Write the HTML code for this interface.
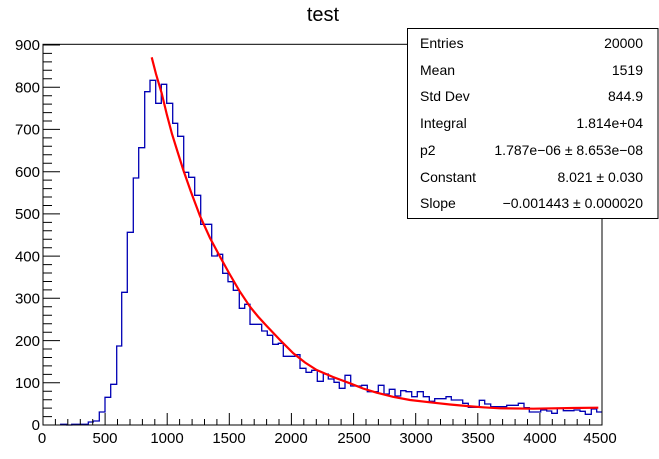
<!DOCTYPE html>
<html><head><meta charset="utf-8"><style>
html,body{margin:0;padding:0;background:#fff;}
svg{display:block;font-family:"Liberation Sans",Arial,sans-serif;}
</style></head><body>
<svg width="659" height="459" viewBox="0 0 659 459" xmlns="http://www.w3.org/2000/svg">
<rect width="659" height="459" fill="#fff"/>
<text x="323" y="21" font-size="20" text-anchor="middle">test</text>
<path fill="none" stroke="#0000b4" stroke-width="1.3" d="M60.7,425 V424.3 H66.7 V425 H71.7 V424.3 H88.3 V422 H93.3 V421 H99.3 V412 H105 V397.3 H110.7 V384.3 H116.7 V346 H121.7 V292.3 H127.3 V232.3 H133.3 V178 H138.7 V147.7 H144.7 V91.7 H150 V80.3 H155.7 V103.3 H161.3 V84.3 H166.7 V103.3 H172.7 V123.3 H177.7 V136.3 H183.7 V172.3 H188.7 V177.3 H194.7 V195.3 H200.7 V224.3 H211.7 V256 H217.3 V254.3 H222.7 V273.3 H228 V281.7 H233.3 V290.3 H239.3 V308.3 H244.7 V304.3 H250 V324.3 H261.7 V331 H267.3 V335.3 H272.7 V344.3 H278.3 V343.3 H283.3 V356.3 H295 V354.7 H300 V368.3 H306 V372.3 H311.7 V370.3 H317.3 V381.3 H323.3 V374 H328.3 V379 H334 V382.3 H339.3 V388.3 H345 V375.3 H350.7 V386 H361.7 V385.3 H367.3 V391.7 H378.3 V385.3 H384 V394 H389.3 V389.3 H395 V396 H400.7 V390.7 H406 V391.7 H411.7 V396.7 H417.3 V391.7 H423.3 V396.7 H429.3 V401.3 H434.7 V398.7 H446 V396.7 H451.3 V400 H462.7 V403.3 H468.3 V407.3 H479.3 V400.3 H484.7 V404 H490.7 V406.7 H506.7 V405.3 H518.3 V403.3 H524 V407.7 H529.3 V412 H540.7 V410 H546.7 V411 H551.7 V413.3 H557.3 V408.3 H563.3 V410.7 H574 V410 H580 V411.3 H585.3 V414.3 H591.3 V409 H596.7 V412 H602"/>
<polyline fill="none" stroke="#ff0000" stroke-width="2.2" points="151.7,57.3 156,74 161.7,93.3 166.7,114 172,134 177,150 183.3,170 191,192 200,216 210,238 220,256.7 229,273 239.3,290.7 250,306.7 258,316.5 266.7,326 280,340 293.3,353.3 305,362.5 316.7,370 333,377 350,383.3 363,388.5 376.7,392.7 393,396.8 410,400 433.3,402.7 450,404.5 466.7,406 483,407.3 500,408.3 533.3,408.7 573.3,408 598.3,407.7"/>
<rect x="43" y="44.3" width="559" height="380.7" fill="none" stroke="#000" stroke-width="1"/>
<g stroke="#000" stroke-width="1">
<path d="M43,425 H60 M43,382.8 H60 M43,340.6 H60 M43,298.3 H60 M43,256.1 H60 M43,213.9 H60 M43,171.7 H60 M43,129.4 H60 M43,87.2 H60 M43,45 H60"/>
<path d="M43,416.6H52M43,408.1H52M43,399.7H52M43,391.2H52M43,374.4H52M43,365.9H52M43,357.5H52M43,349H52M43,332.2H52M43,323.7H52M43,315.3H52M43,306.8H52M43,289.9H52M43,281.5H52M43,273H52M43,264.6H52M43,247.7H52M43,239.3H52M43,230.8H52M43,222.4H52M43,205.5H52M43,197H52M43,188.6H52M43,180.1H52M43,163.2H52M43,154.8H52M43,146.3H52M43,137.9H52M43,121H52M43,112.6H52M43,104.1H52M43,95.7H52M43,78.8H52M43,70.3H52M43,61.9H52M43,53.4H52"/>
<path d="M43,425V413M105.1,425V413M167.2,425V413M229.3,425V413M291.4,425V413M353.6,425V413M415.7,425V413M477.8,425V413M539.9,425V413M602,425V413"/>
<path d="M55.4,425V419M67.8,425V419M80.3,425V419M92.7,425V419M117.5,425V419M130,425V419M142.4,425V419M154.8,425V419M179.6,425V419M192.1,425V419M204.5,425V419M216.9,425V419M241.7,425V419M254.2,425V419M266.6,425V419M279,425V419M303.8,425V419M316.3,425V419M328.7,425V419M341.1,425V419M366,425V419M378.4,425V419M390.8,425V419M403.3,425V419M428.1,425V419M440.5,425V419M453,425V419M465.4,425V419M490.2,425V419M502.6,425V419M515.1,425V419M527.5,425V419M552.3,425V419M564.8,425V419M577.2,425V419M589.6,425V419"/>
</g>
<g font-size="15" text-anchor="end">
<text x="40" y="430">0</text><text x="40" y="388">100</text><text x="40" y="346">200</text><text x="40" y="303.5">300</text><text x="40" y="261.5">400</text><text x="40" y="219">500</text><text x="40" y="177">600</text><text x="40" y="134.5">700</text><text x="40" y="92.5">800</text><text x="40" y="50">900</text>
</g>
<g font-size="15" text-anchor="middle">
<text x="42" y="443">0</text><text x="105" y="443">500</text><text x="167" y="443">1000</text><text x="229" y="443">1500</text><text x="291" y="443">2000</text><text x="354" y="443">2500</text><text x="416" y="443">3000</text><text x="478" y="443">3500</text><text x="540" y="443">4000</text><text x="600" y="443">4500</text>
</g>
<rect x="407.5" y="28.5" width="250.5" height="190" fill="#fff" stroke="#000" stroke-width="1"/>
<g font-size="14">
<text x="420" y="48">Entries</text><text x="643" y="48" text-anchor="end">20000</text>
<text x="420" y="75">Mean</text><text x="643" y="75" text-anchor="end">1519</text>
<text x="420" y="101">Std Dev</text><text x="643" y="101" text-anchor="end">844.9</text>
<text x="420" y="128">Integral</text><text x="643" y="128" text-anchor="end">1.814e+04</text>
<text x="420" y="155">p2</text><text x="643" y="155" text-anchor="end">1.787e−06 ± 8.653e−08</text>
<text x="420" y="182">Constant</text><text x="643" y="182" text-anchor="end">8.021 ± 0.030</text>
<text x="420" y="208">Slope</text><text x="643" y="208" text-anchor="end">−0.001443 ± 0.000020</text>
</g>
</svg>
</body></html>
